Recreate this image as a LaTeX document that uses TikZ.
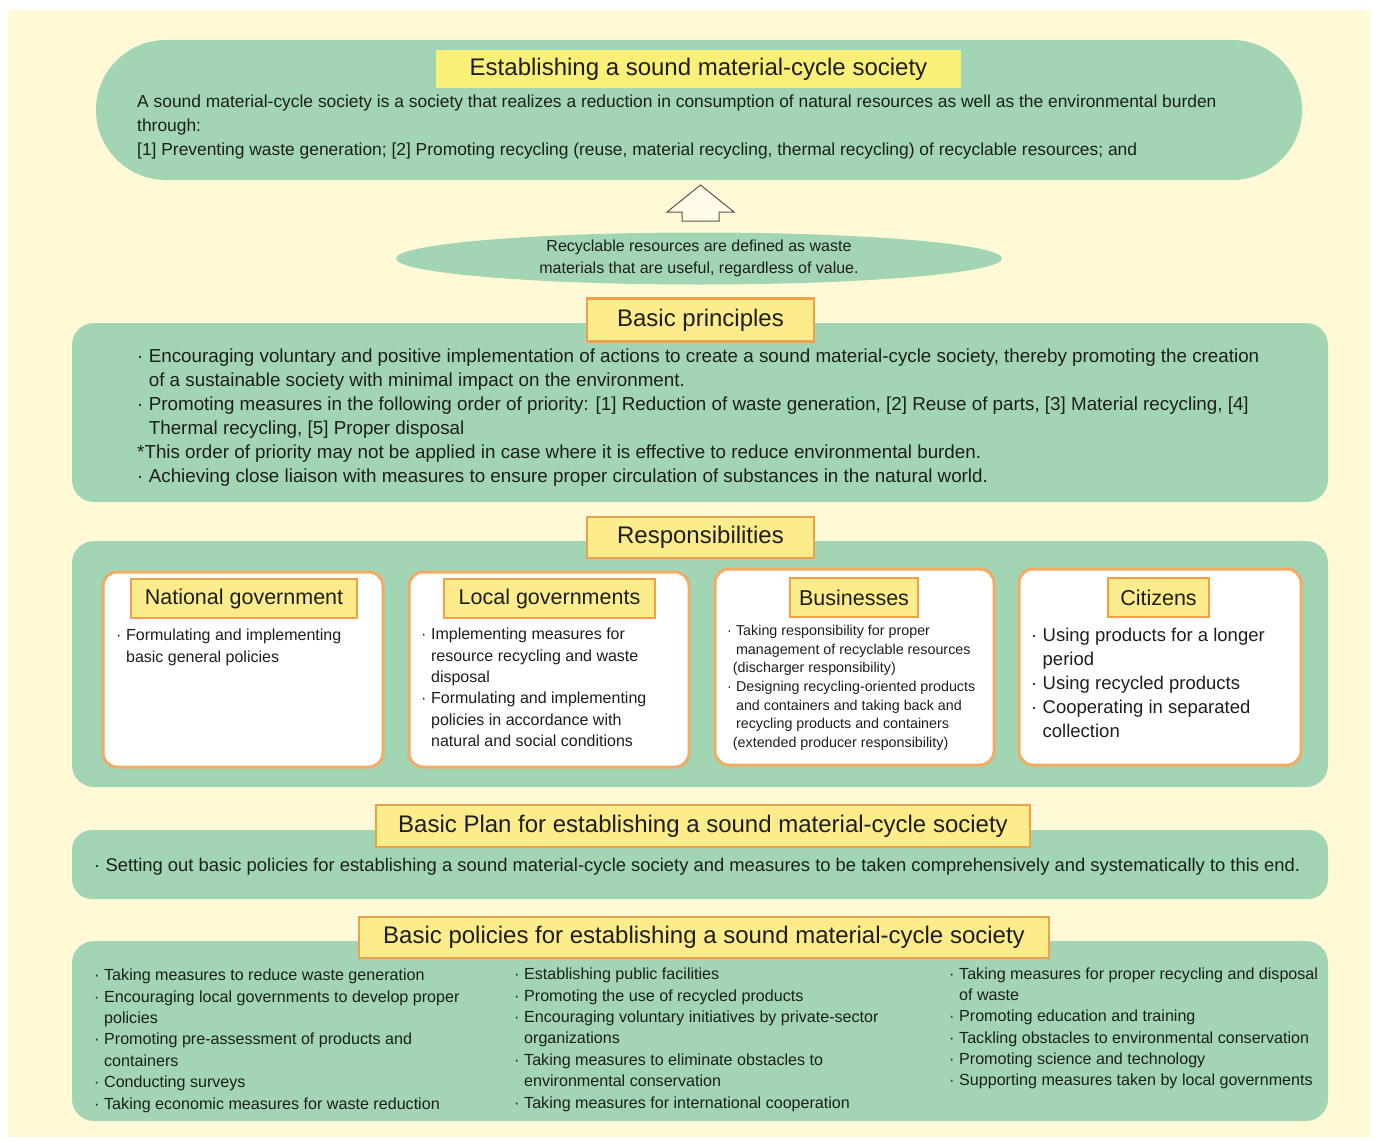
\documentclass[tikz,border=0pt]{standalone}
\usepackage{fontspec}
\setmainfont{Liberation Sans}
\usetikzlibrary{shapes.geometric,shapes.misc}

\definecolor{cream}{HTML}{FFF9D6}
\definecolor{panel}{HTML}{A2D5B4}
\definecolor{titlefill}{HTML}{FAF078}
\definecolor{tagfill}{HTML}{FDEC8C}
\definecolor{tagline}{HTML}{F0A046}
\definecolor{cardline}{HTML}{F3AA64}
\definecolor{arrowfill}{HTML}{FFFBE8}
\definecolor{arrowline}{HTML}{555555}
\definecolor{ink}{HTML}{1E1E1E}

\newcommand\bul{\makebox[0.62em][l]{·}}
\newcommand\ind{\hspace*{0.62em}}
\newcommand\pind{\hspace*{0.4em}}
\newcommand\fs[2]{\fontsize{#1}{#2}\selectfont}

\tikzset{
  panelbox/.style={fill=panel, rounded corners=22pt, inner sep=0pt},
  tagbox/.style={fill=tagfill, draw=tagline, line width=2.5pt, inner sep=0pt, text=ink},
  cardbox/.style={fill=white, draw=cardline, line width=3pt, rounded corners=14pt, inner sep=0pt},
  txt/.style={anchor=north west, inner sep=0pt, align=left, text=ink},
}

\begin{document}
\begin{tikzpicture}[x=1pt,y=-1pt]
\useasboundingbox (0,0) rectangle (1375,1140);
\fill[white] (0,0) rectangle (1375,1140);
\fill[cream] (8,10) rectangle (1370,1137);

% ---- goal: sound material-cycle society ----
\node[rounded rectangle, fill=panel, minimum width=1206pt, minimum height=140pt, inner sep=0pt] (goal) at (699,110) {};
\node[fill=titlefill, minimum width=525pt, minimum height=38pt, inner sep=0pt, font=\fs{24}{28}, text=ink] (goaltitle) at (698.5,69) {Establishing a sound material-cycle society};
\node[txt, font=\fs{17.4}{23.8}] (goaltext) at (137,91) {\strut A sound material-cycle society is a society that realizes a reduction in consumption of natural resources as well as the environmental burden\\
through:\\
{[1]} Preventing waste generation; [2] Promoting recycling (reuse, material recycling, thermal recycling) of recyclable resources; and};

% ---- block arrow pointing up to the goal ----
\draw[fill=arrowfill, draw=arrowline, line width=1pt] (700.5,185) -- (734,212) -- (719,212) -- (719,221) -- (682,221) -- (682,212) -- (667,212) -- cycle;

% ---- definition ellipse ----
\node[ellipse, fill=panel, minimum width=606pt, minimum height=52pt, inner sep=0pt] (defn) at (699,258.5) {};
\node[align=center, font=\fs{16}{22}, text=ink, inner sep=0pt] (defntext) at (defn.center) {Recyclable resources are defined as waste\\materials that are useful, regardless of value.};

% ---- basic principles ----
\node[panelbox, minimum width=1256pt, minimum height=179pt] (princ) at (700,412.5) {};
\node[tagbox, minimum width=227pt, minimum height=43pt, font=\fs{24}{28}] (princtag) at (700.5,320) {Basic principles};
\node[txt, font=\fs{18.8}{24}] (princtext) at (137,345) {\strut\bul Encouraging voluntary and positive implementation of actions to create a sound material-cycle society, thereby promoting the creation\\
\ind of a sustainable society with minimal impact on the environment.\\
\bul Promoting measures in the following order of priority: [1] Reduction of waste generation, [2] Reuse of parts, [3] Material recycling, [4]\\
\ind Thermal recycling, [5] Proper disposal\\
*This order of priority may not be applied in case where it is effective to reduce environmental burden.\\
\bul Achieving close liaison with measures to ensure proper circulation of substances in the natural world.};

% ---- responsibilities ----
\node[panelbox, minimum width=1256pt, minimum height=246pt] (resp) at (700,664) {};
\node[tagbox, minimum width=227pt, minimum height=41pt, font=\fs{24}{28}] (resptag) at (700.5,537.5) {Responsibilities};

\node[cardbox, minimum width=280pt, minimum height=195pt] (natcard) at (243,669.5) {};
\node[cardbox, minimum width=280pt, minimum height=195pt] (loccard) at (549,669.5) {};
\node[cardbox, minimum width=279pt, minimum height=196pt] (buscard) at (854.5,667) {};
\node[cardbox, minimum width=282pt, minimum height=196pt] (citcard) at (1160,667) {};

\node[tagbox, minimum width=226pt, minimum height=39pt, font=\fs{21.5}{25}] (nattag) at (244,598.5) {National government};
\node[tagbox, minimum width=211pt, minimum height=39pt, font=\fs{21.5}{25}] (loctag) at (549.5,598.5) {Local governments};
\node[tagbox, minimum width=128pt, minimum height=39pt, font=\fs{21.5}{25}] (bustag) at (854,597.5) {Businesses};
\node[tagbox, minimum width=101pt, minimum height=39pt, font=\fs{21.5}{25}] (cittag) at (1158.5,597.5) {Citizens};

\node[txt, font=\fs{16}{21.7}] (nattext) at (116,625.5) {\strut\bul Formulating and implementing\\
\ind basic general policies};
\node[txt, font=\fs{16}{21.3}] (loctext) at (421,624.8) {\strut\bul Implementing measures for\\
\ind resource recycling and waste\\
\ind disposal\\
\bul Formulating and implementing\\
\ind policies in accordance with\\
\ind natural and social conditions};
\node[txt, font=\fs{14.3}{18.6}] (bustext) at (727,622.5) {\strut\bul Taking responsibility for proper\\
\ind management of recyclable resources\\
\pind(discharger responsibility)\\
\bul Designing recycling-oriented products\\
\ind and containers and taking back and\\
\ind recycling products and containers\\
\pind(extended producer responsibility)};
\node[txt, font=\fs{18.5}{24}] (cittext) at (1031,624.5) {\strut\bul Using products for a longer\\
\ind period\\
\bul Using recycled products\\
\bul Cooperating in separated\\
\ind collection};

% ---- basic plan ----
\node[panelbox, rounded corners=20pt, minimum width=1256pt, minimum height=69pt] (plan) at (700,864.5) {};
\node[tagbox, minimum width=654pt, minimum height=42pt, font=\fs{24}{28}] (plantag) at (703,826) {Basic Plan for establishing a sound material-cycle society};
\node[txt, anchor=west, font=\fs{18.4}{22}] (plantext) at (94,866.5) {\bul Setting out basic policies for establishing a sound material-cycle society and measures to be taken comprehensively and systematically to this end.};

% ---- basic policies ----
\node[panelbox, minimum width=1256pt, minimum height=180pt] (pol) at (700,1031) {};
\node[tagbox, minimum width=690pt, minimum height=41pt, font=\fs{24}{28}] (poltag) at (704,937.5) {Basic policies for establishing a sound material-cycle society};

\node[txt, font=\fs{16.1}{21.4}] (polone) at (94,965.5) {\strut\bul Taking measures to reduce waste generation\\
\bul Encouraging local governments to develop proper\\
\ind policies\\
\bul Promoting pre-assessment of products and\\
\ind containers\\
\bul Conducting surveys\\
\bul Taking economic measures for waste reduction};
\node[txt, font=\fs{16.1}{21.4}] (poltwo) at (514,964.5) {\strut\bul Establishing public facilities\\
\bul Promoting the use of recycled products\\
\bul Encouraging voluntary initiatives by private-sector\\
\ind organizations\\
\bul Taking measures to eliminate obstacles to\\
\ind environmental conservation\\
\bul Taking measures for international cooperation};
\node[txt, font=\fs{16.1}{21.2}] (polthree) at (949,964.5) {\strut\bul Taking measures for proper recycling and disposal\\
\ind of waste\\
\bul Promoting education and training\\
\bul Tackling obstacles to environmental conservation\\
\bul Promoting science and technology\\
\bul Supporting measures taken by local governments};
\end{tikzpicture}
\end{document}
